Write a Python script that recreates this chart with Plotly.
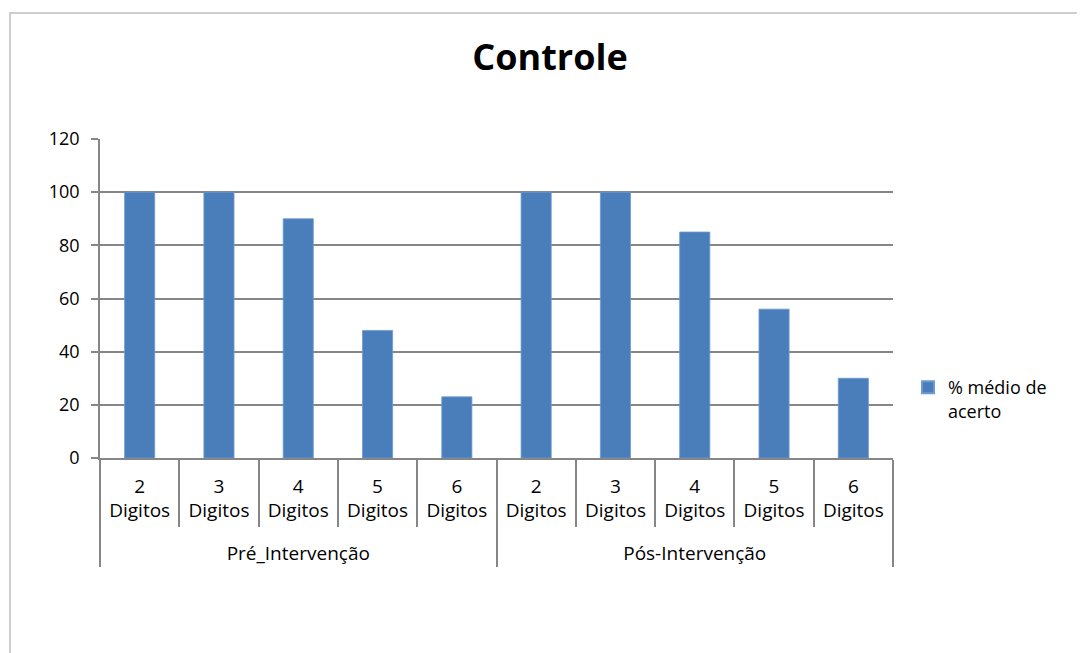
import plotly.graph_objects as go

groups = ["Pré_Intervenção"] * 5 + ["Pós-Intervenção"] * 5
digits = ["2<br>Digitos<br> ", "3<br>Digitos<br> ", "4<br>Digitos<br> ",
          "5<br>Digitos<br> ", "6<br>Digitos<br> "] * 2
values = [100, 100, 90, 48, 23, 100, 100, 85, 56, 30]
series_name = "% médio de<br>acerto"
y_ticks = [0, 20, 40, 60, 80, 100, 120]

W, H = 1085, 653
L, R, T, B = 92, 200, 131, 203
pw, ph = W - L - R, H - T - B

fig = go.Figure()
fig.add_trace(go.Bar(
    x=[groups, digits], y=values, name=series_name,
    marker=dict(color="#4a7ebb", line=dict(color="#6d9bd1", width=0.8)),
    showlegend=True,
))

font = "Open Sans, sans-serif"
fig.update_layout(
    width=W, height=H,
    margin=dict(l=L, r=R, t=T, b=B, autoexpand=False),
    paper_bgcolor="white", plot_bgcolor="white",
    font=dict(family=font, size=18, color="#000000"),
    title=dict(text="<b>Controle</b>", x=542 / W, xref="container", xanchor="center",
               y=1 - 49 / H, yref="container", yanchor="middle",
               font=dict(size=36, family=font, color="#000")),
    bargap=0.62,
    showlegend=True,
    legend=dict(x=(900 - L) / pw, xanchor="left", y=(450 - 361) / ph, yanchor="top",
                valign="top", font=dict(size=18, family=font), itemsizing="constant",
                bgcolor="rgba(0,0,0,0)", tracegroupgap=0),
    xaxis=dict(type="multicategory", showline=True, linecolor="#868686", linewidth=1.5,
               ticks="outside", tickson="boundaries", ticklen=67, tickcolor="#868686",
               tickwidth=1.5, dividercolor="#868686", dividerwidth=1.5,
               ticklabelstandoff=10,
               showgrid=False, tickfont=dict(size=19, family=font)),
    yaxis=dict(range=[0, 120], tickvals=y_ticks, showgrid=True, gridcolor="#868686",
               gridwidth=1.5, showline=True, linecolor="#868686", linewidth=1.5,
               ticks="outside", ticklen=7, tickcolor="#868686", tickwidth=1.5,
               ticklabelstandoff=8,
               zeroline=False, tickfont=dict(size=18, family=font), fixedrange=True),
)

fig.add_shape(type="rect", xref="paper", yref="paper",
              x0=(2 - L) / pw, x1=(1100 - L) / pw,
              y0=(450 - 670) / ph, y1=(450 - 5) / ph,
              line=dict(color="#bfbfbf", width=1.5), layer="below")

fig.write_html("out.html")
